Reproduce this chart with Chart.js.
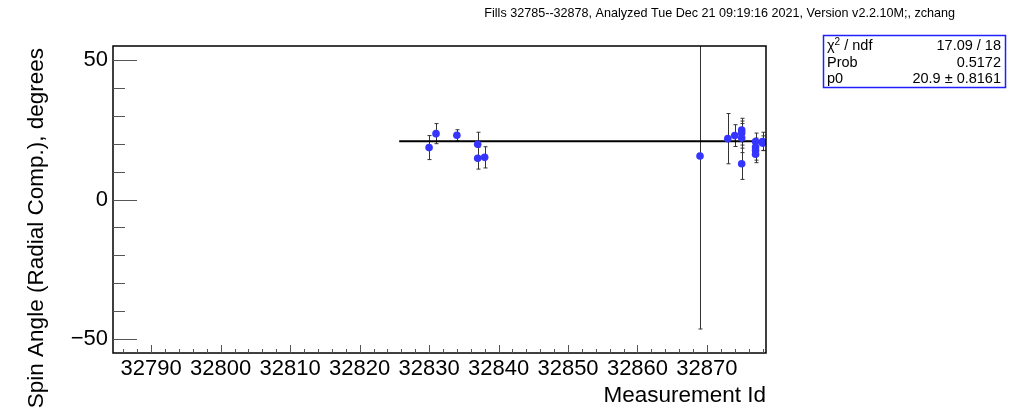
<!DOCTYPE html>
<html>
<head>
<meta charset="utf-8">
<script src="https://cdn.jsdelivr.net/npm/chart.js@4.4.0/dist/chart.umd.min.js"></script>
<style>
html,body{margin:0;padding:0;background:#fff;}
#wrap{width:1014px;height:415px;position:relative;}
</style>
</head>
<body>
<div id="wrap"><canvas id="c" width="1014" height="415"></canvas></div>
<script>
// ---- data ----
const measurementIds = [32830, 32831, 32834, 32837, 32837, 32838, 32869, 32873, 32874, 32875, 32875, 32875, 32875, 32877, 32877, 32877, 32877, 32878, 32878];
const spinAngles     = [18.6, 23.6, 23.0, 19.8, 14.8, 15.1, 15.6, 21.8, 22.9, 24.9, 23.8, 22.0, 12.8, 20.8, 18.8, 17.6, 16.2, 20.8, 20.2];
const spinErrors     = [4.3, 3.6, 2.0, 4.3, 3.9, 3.8, 62.0, 9.0, 3.9, 4.2, 4.3, 5.2, 5.6, 3.0, 3.2, 3.5, 3.0, 3.3, 2.6];
const fitValue = 20.9;
const fitRange = [32825.7, 32878.5];
const xTickLabels = [32790, 32800, 32810, 32820, 32830, 32840, 32850, 32860, 32870];
const yTickLabels = [-50, 0, 50];
const xRange = [32784.5, 32878.5];
const yRange = [-55, 55];
const titleText = "Fills 32785--32878, Analyzed Tue Dec 21 09:19:16 2021, Version v2.2.10M;, zchang";
const statsLabels = ["χ2 / ndf", "Prob", "p0"];
const statsValues = ["17.09 / 18", "0.5172", "20.9 ± 0.8161"];
const xTitle = "Measurement Id";
const yTitle = "Spin Angle (Radial Comp.), degrees";

const FONT = "'Liberation Sans', Arial, Helvetica, sans-serif";

const pts = measurementIds.map((x, i) => ({x: x, y: spinAngles[i]}));

const rootPlugin = {
  id: 'rootStyle',
  beforeDatasetsDraw(chart) {
    const ctx = chart.ctx, a = chart.chartArea;
    const xs = chart.scales.x, ys = chart.scales.y;
    ctx.save();
    // error bars
    ctx.beginPath();
    ctx.rect(a.left, a.top, a.right - a.left, a.bottom - a.top);
    ctx.clip();
    ctx.strokeStyle = '#333';
    ctx.lineWidth = 1;
    for (let i = 0; i < measurementIds.length; i++) {
      const px = Math.round(xs.getPixelForValue(measurementIds[i])) + 0.5;
      const yTop = ys.getPixelForValue(spinAngles[i] + spinErrors[i]);
      const yBot = ys.getPixelForValue(spinAngles[i] - spinErrors[i]);
      ctx.beginPath();
      ctx.moveTo(px, yTop); ctx.lineTo(px, yBot);
      ctx.moveTo(px - 2, yTop); ctx.lineTo(px + 2, yTop);
      ctx.moveTo(px - 2, yBot); ctx.lineTo(px + 2, yBot);
      ctx.stroke();
    }
    ctx.restore();
  },
  afterDraw(chart) {
    const ctx = chart.ctx, a = chart.chartArea;
    const xs = chart.scales.x, ys = chart.scales.y;
    ctx.save();
    // frame
    ctx.strokeStyle = '#000';
    ctx.lineWidth = 1.5;
    ctx.strokeRect(a.left, a.top, a.right - a.left, a.bottom - a.top);
    // ticks
    ctx.lineWidth = 1;
    ctx.strokeStyle = '#555';
    ctx.beginPath();
    for (let v = 32786; v <= xRange[1]; v += 2) {
      const px = Math.round(xs.getPixelForValue(v)) + 0.5;
      const len = (v % 10 === 0) ? 8 : 4;
      ctx.moveTo(px, a.bottom); ctx.lineTo(px, a.bottom - len);
    }
    for (let v = -50; v <= 50; v += 10) {
      const py = Math.round(ys.getPixelForValue(v)) + 0.5;
      const len = (v % 50 === 0) ? 24 : 12;
      ctx.moveTo(a.left, py); ctx.lineTo(a.left + len, py);
    }
    ctx.stroke();

    // title
    ctx.fillStyle = '#000';
    ctx.font = '12.6px ' + FONT;
    ctx.textAlign = 'right';
    ctx.textBaseline = 'middle';
    ctx.fillText(titleText, 955, 14);

    // axis titles
    ctx.font = '22.5px ' + FONT;
    ctx.textAlign = 'right';
    ctx.textBaseline = 'middle';
    ctx.fillText(xTitle, a.right, 396);
    ctx.save();
    ctx.translate(37, 48);
    ctx.rotate(-Math.PI / 2);
    ctx.textAlign = 'right';
    ctx.fillText(yTitle, 0, 0);
    ctx.restore();

    // stats box
    ctx.fillStyle = '#fff';
    ctx.fillRect(823.5, 35.5, 182, 52);
    ctx.strokeStyle = '#2020ff';
    ctx.lineWidth = 1.5;
    ctx.strokeRect(823.5, 35.5, 182, 52);
    ctx.fillStyle = '#000';
    ctx.font = '14.5px ' + FONT;
    ctx.textBaseline = 'middle';
    const rows = [46, 62.5, 79];
    // chi2 label with superscript
    ctx.textAlign = 'left';
    let lx = 827;
    ctx.fillText('χ', lx, rows[0]);
    lx += ctx.measureText('χ').width;
    ctx.font = '10px ' + FONT;
    ctx.fillText('2', lx, rows[0] - 4);
    lx += ctx.measureText('2').width;
    ctx.font = '14.5px ' + FONT;
    ctx.fillText(' / ndf', lx, rows[0]);
    ctx.fillText(statsLabels[1], 827, rows[1]);
    ctx.fillText(statsLabels[2], 827, rows[2]);
    ctx.textAlign = 'right';
    for (let i = 0; i < 3; i++) ctx.fillText(statsValues[i], 1001, rows[i]);
    ctx.restore();
  }
};

new Chart(document.getElementById('c'), {
  data: {
    datasets: [
      {
        type: 'line',
        data: [{x: fitRange[0], y: fitValue}, {x: fitRange[1], y: fitValue}],
        borderColor: '#000',
        borderWidth: 2,
        pointRadius: 0,
        fill: false,
        order: 2
      },
      {
        type: 'scatter',
        data: pts,
        backgroundColor: '#3535ff',
        borderWidth: 0,
        pointRadius: 3.8,
        order: 1
      }
    ]
  },
  options: {
    responsive: false,
    animation: false,
    devicePixelRatio: 1,
    layout: {padding: {top: 46, right: 248, left: 0, bottom: 0}},
    plugins: {legend: {display: false}, tooltip: {enabled: false}, title: {display: false}},
    scales: {
      x: {
        type: 'linear',
        min: xRange[0], max: xRange[1],
        grid: {display: false, drawTicks: false},
        border: {display: false},
        afterBuildTicks(s) { s.ticks = xTickLabels.map(v => ({value: v})); },
        afterFit(s) { s.height = 62; },
        ticks: {
          autoSkip: false, maxRotation: 0, padding: 3, color: '#000',
          font: {family: FONT, size: 22},
          callback: v => String(v)
        }
      },
      y: {
        type: 'linear',
        min: yRange[0], max: yRange[1],
        grid: {display: false, drawTicks: false},
        border: {display: false},
        afterBuildTicks(s) { s.ticks = yTickLabels.map(v => ({value: v})); },
        afterFit(s) { s.width = 113; },
        ticks: {
          autoSkip: false, padding: 5, color: '#000',
          font: {family: FONT, size: 22},
          callback: v => String(v).replace('-', '\u2212')
        }
      }
    }
  },
  plugins: [rootPlugin]
});
</script>
</body>
</html>
